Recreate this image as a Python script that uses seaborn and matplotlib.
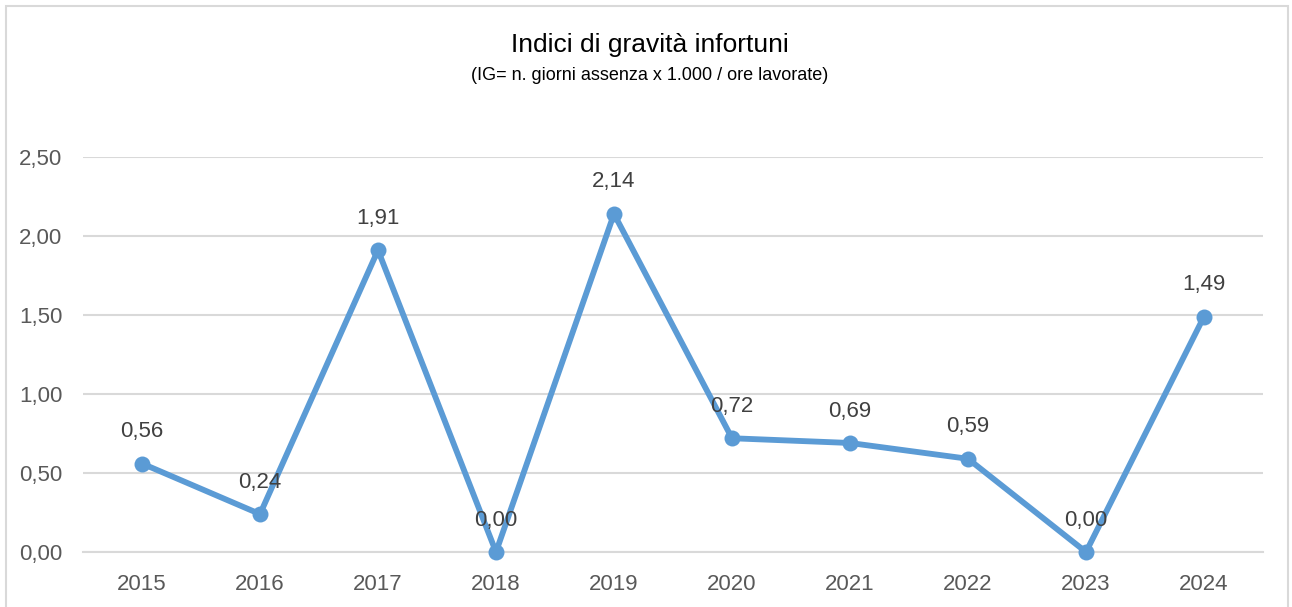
import matplotlib
matplotlib.use("Agg")
import matplotlib.pyplot as plt
from matplotlib.patches import Rectangle
from matplotlib.ticker import FixedLocator, FuncFormatter
import seaborn as sns
import pandas as pd

years = ["2015", "2016", "2017", "2018", "2019", "2020", "2021", "2022", "2023", "2024"]
values = [0.56, 0.24, 1.91, 0.00, 2.14, 0.72, 0.69, 0.59, 0.00, 1.49]
y_ticks = [0.0, 0.5, 1.0, 1.5, 2.0, 2.5]
title = "Indici di gravità infortuni"
subtitle = "(IG= n. giorni assenza x 1.000 / ore lavorate)"

sns.set_theme(style="white")
plt.rcParams["font.family"] = ["Liberation Sans Narrow", "Liberation Sans", "DejaVu Sans"]

df = pd.DataFrame({"anno": years, "valore": values})

fig = plt.figure(figsize=(12.92, 6.07), dpi=100)
ax = fig.add_axes([83 / 1292, 1 - 552 / 607, (1263 - 83) / 1292, (552 - 157) / 607])

line_color = "#5B9BD5"
sns.lineplot(data=df, x="anno", y="valore", ax=ax, color=line_color, linewidth=4.2,
             marker="o", markersize=11.5, markeredgewidth=0, sort=False, clip_on=False, zorder=5)

ax.set_xlim(-0.5, len(years) - 0.5)
ax.set_ylim(0, 2.5)
ax.set_xlabel("")
ax.set_ylabel("")

grid_c = "#d9d9d9"
ax.yaxis.set_major_locator(FixedLocator(y_ticks))
ax.yaxis.set_major_formatter(FuncFormatter(lambda v, p: f"{v:.2f}".replace(".", ",")))
ax.grid(axis="y", color=grid_c, linewidth=1.5)
ax.set_axisbelow(True)
for s in ["top", "right", "left"]:
    ax.spines[s].set_visible(False)
ax.spines["bottom"].set_color(grid_c)
ax.spines["bottom"].set_linewidth(1.5)

ax.set_xticks(range(len(years)))
ax.set_xticklabels(years)
ax.set_xticks([i - 0.5 for i in range(len(years) + 1)], minor=True)
ax.tick_params(axis="x", which="both", direction="in", length=5, width=1.2, color=grid_c,
               labelsize=16, labelcolor="#595959", pad=16)
ax.tick_params(axis="y", which="both", length=0, labelsize=16, labelcolor="#595959", pad=15)

for i, v in enumerate(values):
    ax.annotate(f"{v:.2f}".replace(".", ","), (i, v), xytext=(0, 23), textcoords="offset points",
                ha="center", va="center", fontsize=16, color="#404040", zorder=6)

fig.text(650 / 1292, 1 - 45 / 607, title, ha="center", va="center", fontsize=19, color="#000000")
fig.text(650 / 1292, 1 - 75 / 607, subtitle, ha="center", va="center", fontsize=13, color="#000000")

fig.patches.append(Rectangle((6 / 1292, -0.1), (1288 - 6) / 1292, 1.1 - 6 / 607,
                             transform=fig.transFigure, fill=False, edgecolor=grid_c, linewidth=1.5))

fig.savefig("out.png", dpi=100)
